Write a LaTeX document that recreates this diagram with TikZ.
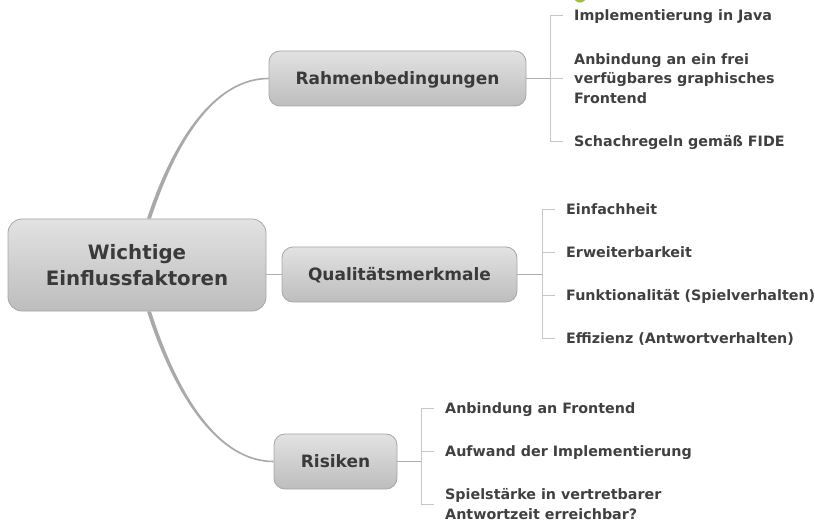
\documentclass[tikz,border=0pt]{standalone}
\usepackage{fontspec}
\setmainfont{DejaVu Sans}
\usetikzlibrary{calc}
\definecolor{txt}{HTML}{3A3A3A}
\definecolor{leaftxt}{HTML}{404040}
\definecolor{boxtop}{HTML}{E2E2E2}
\definecolor{boxbot}{HTML}{BDBDBD}
\definecolor{boxline}{HTML}{A6A6A6}
\definecolor{conncol}{HTML}{AEAEAE}
\definecolor{brcol}{HTML}{C6C6C6}
\definecolor{curvecol}{HTML}{A9A9A9}
\definecolor{iconcol}{HTML}{9DC33B}
\begin{document}
\begin{tikzpicture}[x=1pt,y=-1pt,
  box/.style={draw=boxline, line width=0.8pt, rounded corners=11pt,
    top color=boxtop, bottom color=boxbot, text=txt, inner sep=0pt,
    align=center, font=\bfseries\fontsize{17}{20}\selectfont,
    text height=12.4pt, text depth=0pt},
  rootbox/.style={box, rounded corners=14pt,
    font=\bfseries\fontsize{19.8}{26}\selectfont, text height=, text depth=},
  leaf/.style={anchor=west, inner sep=0pt, align=left, text=leaftxt,
    font=\bfseries\fontsize{14.3}{19.5}\selectfont},
  one/.style={text height=10.5pt, text depth=0pt},
  br/.style={draw=brcol, line width=0.9pt},
  conn/.style={draw=conncol, line width=1.1pt},
  curve/.style={fill=curvecol}
]
\useasboundingbox (0,0) rectangle (815,524);

% small icon cut by the top edge
\fill[iconcol] (580,-3.7) circle (6.3);

% main nodes
\node[rootbox, minimum width=258pt, minimum height=92pt] (root) at (137,265) {Wichtige\\Einflussfaktoren};
\node[box, minimum width=257pt, minimum height=55pt] (rahmen) at (397.5,78.5) {Rahmenbedingungen};
\node[box, minimum width=235pt, minimum height=55pt] (qual) at (399.5,274.5) {Qualitätsmerkmale};
\node[box, minimum width=123pt, minimum height=55pt] (risk) at (335.5,461.5) {Risiken};

% leaves of Rahmenbedingungen
\node[leaf, one] (r1) at (574,15.3) {Implementierung in Java};
\node[leaf] (r2) at (574,78.5) {Anbindung an ein frei\\verfügbares graphisches\\Frontend};
\node[leaf, one] (r3) at (574,141) {Schachregeln gemäß FIDE};

% leaves of Qualitätsmerkmale
\node[leaf, one] (q1) at (566,209.3) {Einfachheit};
\node[leaf, one] (q2) at (566,252.6) {Erweiterbarkeit};
\node[leaf, one] (q3) at (566,295.6) {Funktionalität (Spielverhalten)};
\node[leaf, one] (q4) at (566,338.7) {Effizienz (Antwortverhalten)};

% leaves of Risiken
\node[leaf, one] (k1) at (445,408) {Anbindung an Frontend};
\node[leaf, one] (k2) at (445,451.2) {Aufwand der Implementierung};
\node[leaf] (k3) at (445,504.3) {Spielstärke in vertretbarer\\Antwortzeit erreichbar?};

% curved connectors from the root (tapered)
\fill[curve] ($(root.north)+(10,0)$) .. controls +(26,-79) and +(-54,0) .. ($(rahmen.west)+(0,-0.8)$)
  -- ($(rahmen.west)+(0,0.8)$) .. controls +(-53,0) and +(26,-79) .. ($(root.north)+(14,0)$) -- cycle;
\fill[curve] ($(root.south)+(10,0)$) .. controls +(27,84) and +(-56,0) .. ($(risk.west)+(0,0.8)$)
  -- ($(risk.west)+(0,-0.8)$) .. controls +(-55,0) and +(27,84) .. ($(root.south)+(14,0)$) -- cycle;
\draw[conn] (qual.west -| root.east) -- (qual.west);

% Rahmenbedingungen bracket
\draw[conn] (rahmen.east) -- ($(rahmen.east -| r2.west)+(-24,0)$);
\draw[br] ($(r1.west)+(-11,0)$) -- ($(r1.west)+(-24,0)$) -- ($(r3.west)+(-24,0)$) -- ($(r3.west)+(-11,0)$);
\draw[br] ($(r2.west)+(-11,0)$) -- ($(r2.west)+(-24,0)$);

% Qualitätsmerkmale bracket
\draw[conn] (qual.east) -- ($(qual.east -| q1.west)+(-24,0)$);
\draw[br] ($(q1.west)+(-11,0)$) -- ($(q1.west)+(-24,0)$) -- ($(q4.west)+(-24,0)$) -- ($(q4.west)+(-11,0)$);
\draw[br] ($(q2.west)+(-11,0)$) -- ($(q2.west)+(-24,0)$);
\draw[br] ($(q3.west)+(-11,0)$) -- ($(q3.west)+(-24,0)$);

% Risiken bracket
\draw[conn] (risk.east) -- ($(risk.east -| k1.west)+(-24,0)$);
\draw[br] ($(k1.west)+(-11,0)$) -- ($(k1.west)+(-24,0)$) -- ($(k3.west)+(-24,0)$) -- ($(k3.west)+(-11,0)$);
\draw[br] ($(k2.west)+(-11,0)$) -- ($(k2.west)+(-24,0)$);
\end{tikzpicture}
\end{document}
